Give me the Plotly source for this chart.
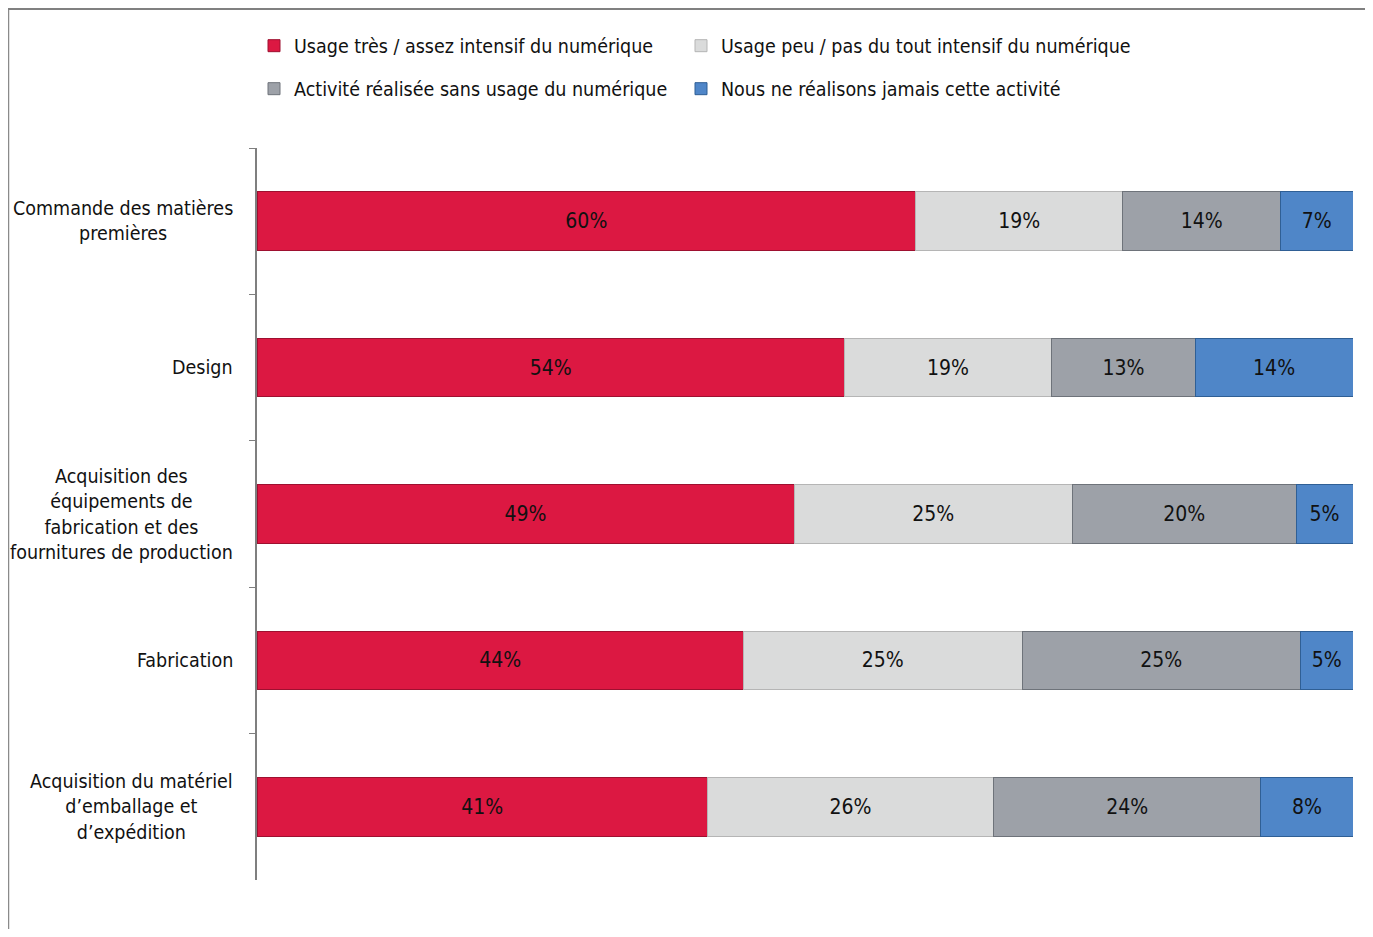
import plotly.graph_objects as go

categories = [
    "Commande des matières<br>premières",
    "Design",
    "Acquisition des<br>équipements de<br>fabrication et des<br>fournitures de production",
    "Fabrication",
    "Acquisition du matériel<br>d’emballage et<br>d’expédition",
]
series_names = [
    "Usage très / assez intensif du numérique",
    "Usage peu / pas du tout intensif du numérique",
    "Activité réalisée sans usage du numérique",
    "Nous ne réalisons jamais cette activité",
]
v_intensif = [60.1, 53.6, 49.0, 44.4, 41.1]
v_peu = [18.9, 18.9, 25.4, 25.4, 26.1]
v_sans = [14.4, 13.1, 20.4, 25.4, 24.4]
v_jamais = [6.6, 14.4, 5.2, 4.8, 8.4]

colors = ["#DC1842", "#DADBDB", "#9DA1A8", "#4F86C8"]
line_colors = ["#9E1030", "#B5B5B5", "#6E737A", "#2F5F95"]

FONT = "DejaVu Sans Condensed, Liberation Sans Narrow, Arial Narrow, sans-serif"

# page body has an 8px margin: work in screen pixels and convert
OFF = 8
W, H = 1373 - OFF, 937 - 2 * OFF
PL, PR, PT, PB = 257, 1353, 148, 880  # plot area in screen pixels
ML, MR, MT, MB = PL - OFF, W - (PR - OFF), PT - OFF, H - (PB - OFF)
PW, PH = PR - PL, PB - PT


def px_x(x):
    return (x - PL) / PW


def px_y(y):
    return (PB - y) / PH


legend_pos = [(254, 46), (681, 46), (254, 89), (681, 89)]
legend_ids = ["legend", "legend2", "legend3", "legend4"]

fig = go.Figure()
for name, vals, c, lc, lg in zip(series_names, [v_intensif, v_peu, v_sans, v_jamais], colors, line_colors, legend_ids):
    fig.add_trace(go.Bar(
        y=categories, x=vals, name=name, orientation="h",
        marker=dict(color=c, line=dict(color=lc, width=1)),
        texttemplate="%{x:.0f}%", textposition="inside", insidetextanchor="middle",
        textangle=0,
        textfont=dict(family=FONT, size=21, color="#111111"),
        legend=lg, hoverinfo="name+x",
    ))

# category labels as centered multi-line annotations
for cat in categories:
    fig.add_annotation(
        x=px_x(235), xref="paper", y=cat, yref="y",
        text=cat, showarrow=False, xanchor="right", yanchor="middle",
        align="center", font=dict(family=FONT, size=19.5, color="#111111"),
    )

# outer frame
fig.add_shape(type="line", xref="paper", yref="paper",
              x0=px_x(8.5), x1=px_x(8.5), y0=px_y(9), y1=px_y(960),
              line=dict(color="#8A8A8A", width=1.5))
fig.add_shape(type="line", xref="paper", yref="paper",
              x0=px_x(8), x1=px_x(1372), y0=px_y(9), y1=px_y(9),
              line=dict(color="#808080", width=2))
fig.add_shape(type="line", xref="paper", yref="paper",
              x0=px_x(1371), x1=px_x(1371), y0=px_y(9), y1=px_y(960),
              line=dict(color="#C8C8C8", width=1.5))

layout_legends = {}
for lg, (lx, ly) in zip(legend_ids, legend_pos):
    layout_legends[lg] = dict(
        x=px_x(lx), y=px_y(ly), xanchor="left", yanchor="middle",
        orientation="h", font=dict(family=FONT, size=19.5, color="#111111"),
        itemwidth=30, bgcolor="rgba(0,0,0,0)",
    )

fig.update_layout(
    width=W, height=H,
    margin=dict(l=ML, r=MR, t=MT, b=MB),
    barmode="stack", bargap=0.6,
    plot_bgcolor="white", paper_bgcolor="white",
    xaxis=dict(range=[0, 100], visible=False, fixedrange=True),
    yaxis=dict(
        autorange="reversed", showticklabels=False,
        showline=True, linecolor="#7F7F7F", linewidth=1.5,
        ticks="outside", tickson="boundaries", ticklen=6, tickcolor="#7F7F7F",
        showgrid=False, zeroline=False,
    ),
    showlegend=True,
    **layout_legends,
)

fig.write_html("out.html")
